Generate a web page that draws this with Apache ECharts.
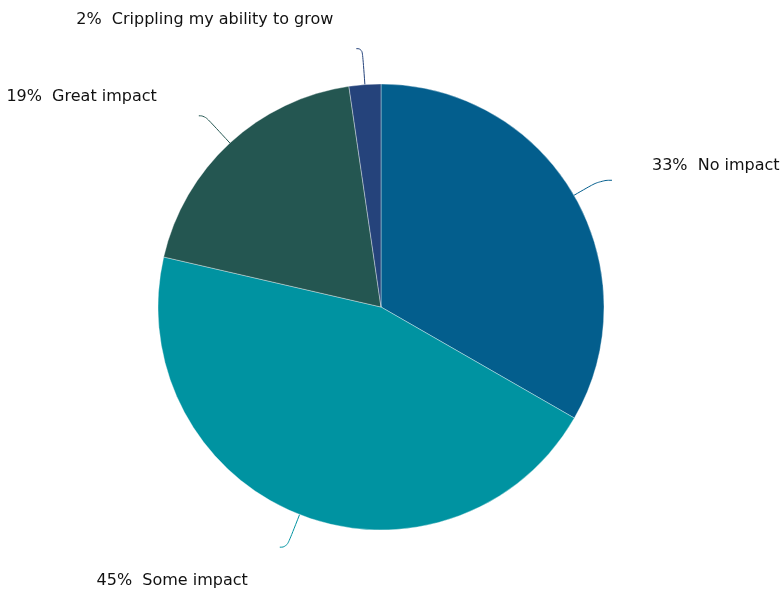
<!DOCTYPE html>
<html><head><meta charset="utf-8">
<script src="https://cdn.jsdelivr.net/npm/echarts@6/dist/echarts.min.js"></script>
<style>html,body{margin:0;padding:0;background:#fff}#c{width:781px;height:590px}</style>
</head><body><div id="c"></div>
<script>
const categories = ['No impact', 'Some impact', 'Great impact', 'Crippling my ability to grow'];
const values = [33.3, 45.3, 19.1, 2.3];
const colors = ['#035e8d', '#0093a1', '#245651', '#25437b'];

// per-slice label placement (styling only); shift < 0 moves text up, > 0 down
const labelStyles = [
  { len: 30, len2: 12, dist: 40, shift: -14 },
  { len: 35, len2: 7, dist: 32, shift: 34 },
  { len: 37, len2: 6, dist: 42, shift: -19 },
  { len: 36, len2: 6, dist: 23, shift: -29 }
];

const chart = echarts.init(document.getElementById('c'), null, { renderer: 'canvas' });
chart.setOption({
  animation: false,
  series: [{
    type: 'pie',
    center: [381, 307],
    radius: [0, 223],
    startAngle: 90,
    clockwise: true,
    avoidLabelOverlap: false,
    itemStyle: { borderColor: 'rgba(255,255,255,0.6)', borderWidth: 0.6 },
    label: {
      show: true,
      position: 'outside',
      color: '#111',
      fontFamily: 'DejaVu Sans',
      fontSize: 16,
      formatter: p => {
        const s = labelStyles[p.dataIndex].shift;
        const t = '{t|' + Math.round(p.percent) + '%  ' + p.name + '}';
        const sp = '{s' + p.dataIndex + '|}';
        return s < 0 ? t + '\n' + sp : sp + '\n' + t;
      },
      rich: {
        t: { fontFamily: 'DejaVu Sans', fontSize: 16, color: '#111', lineHeight: 20 },
        s0: { height: 28, lineHeight: 28 },
        s1: { height: 68, lineHeight: 68 },
        s2: { height: 38, lineHeight: 38 },
        s3: { height: 58, lineHeight: 58 }
      }
    },
    labelLine: { show: true, smooth: 0.5, lineStyle: { width: 1 } },
    data: categories.map((c, i) => ({
      name: c,
      value: values[i],
      itemStyle: { color: colors[i] },
      label: { distanceToLabelLine: labelStyles[i].dist },
      labelLine: { length: labelStyles[i].len, length2: labelStyles[i].len2 }
    }))
  }]
});
</script></body></html>
